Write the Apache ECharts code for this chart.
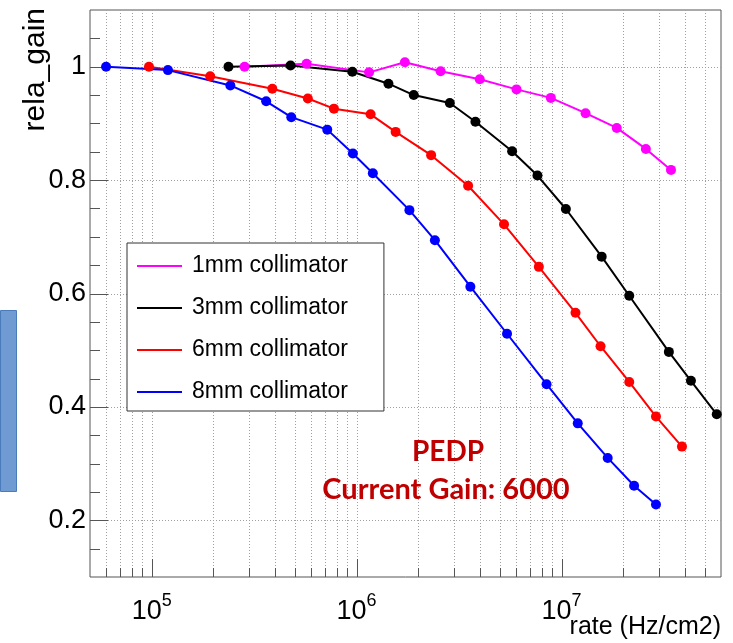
<!DOCTYPE html>
<html>
<head>
<meta charset="utf-8">
<script src="https://cdn.jsdelivr.net/npm/echarts@6/dist/echarts.min.js"></script>
<style>
  html, body { margin: 0; padding: 0; background: #fff; }
  #chart { width: 733px; height: 643px; }
</style>
</head>
<body>
<div id="chart"></div>
<script>
// Relative gain versus rate for four collimator sizes
const seriesNames = ['1mm collimator', '3mm collimator', '6mm collimator', '8mm collimator'];
const seriesColors = ['#ff00ff', '#000000', '#ff0000', '#0000ff'];

const rate1mm = [2.84e5, 5.70e5, 1.15e6, 1.72e6, 2.57e6, 3.99e6, 6.03e6, 8.87e6, 1.31e7, 1.86e7, 2.58e7, 3.42e7];
const gain1mm = [1.000, 1.005, 0.990, 1.008, 0.992, 0.978, 0.960, 0.945, 0.918, 0.892, 0.855, 0.818];

const rate3mm = [2.37e5, 4.76e5, 9.53e5, 1.43e6, 1.90e6, 2.85e6, 3.80e6, 5.74e6, 7.63e6, 1.05e7, 1.57e7, 2.14e7, 3.34e7, 4.28e7, 5.72e7];
const gain3mm = [1.000, 1.002, 0.991, 0.970, 0.950, 0.936, 0.903, 0.851, 0.808, 0.749, 0.665, 0.596, 0.497, 0.446, 0.387];

const rate6mm = [9.7e4, 1.93e5, 3.88e5, 5.78e5, 7.75e5, 1.17e6, 1.55e6, 2.31e6, 3.50e6, 5.24e6, 7.75e6, 1.17e7, 1.55e7, 2.14e7, 2.89e7, 3.87e7];
const gain6mm = [1.000, 0.983, 0.961, 0.944, 0.926, 0.916, 0.885, 0.844, 0.790, 0.722, 0.647, 0.566, 0.507, 0.444, 0.383, 0.330];

const rate8mm = [5.99e4, 1.20e5, 2.42e5, 3.62e5, 4.80e5, 7.19e5, 9.59e5, 1.20e6, 1.81e6, 2.41e6, 3.59e6, 5.42e6, 8.45e6, 1.20e7, 1.68e7, 2.26e7, 2.89e7];
const gain8mm = [1.000, 0.994, 0.967, 0.939, 0.911, 0.889, 0.847, 0.812, 0.747, 0.694, 0.612, 0.529, 0.440, 0.371, 0.310, 0.261, 0.228];

const xMin = 5e4, xMax = 6e7;
const yMin = 0.1, yMax = 1.1;

// Log-axis tick positions: every integer multiple of each decade
const xTickValues = [];
for (let e = 4; e <= 7; e++) {
  for (let m = 1; m <= 9; m++) {
    const v = m * Math.pow(10, e);
    if (v > xMin && v < xMax) xTickValues.push(v);
  }
}
// Linear y ticks every 0.05, grid every 0.2
const yTickValues = [];
for (let k = 3; k <= 21; k++) yTickValues.push(Math.round(k * 5) / 100);

const SANS = '"Liberation Sans", Arial, sans-serif';

function zip(xs, ys) { return xs.map((x, i) => [x, ys[i]]); }
const seriesData = [zip(rate1mm, gain1mm), zip(rate3mm, gain3mm), zip(rate6mm, gain6mm), zip(rate8mm, gain8mm)];

function isDecade(v) {
  const e = Math.log10(v);
  return Math.abs(e - Math.round(e)) < 1e-6;
}

const chart = echarts.init(document.getElementById('chart'), null, { renderer: 'canvas' });

const lineSeries = seriesNames.map((name, i) => ({
  name: name,
  type: 'line',
  data: seriesData[i],
  symbol: 'circle',
  symbolSize: 10,
  showSymbol: true,
  color: seriesColors[i],
  lineStyle: { width: 2, color: seriesColors[i] },
  itemStyle: { color: seriesColors[i] },
  z: 5,
  silent: true
}));

const option = {
  animation: false,
  backgroundColor: '#ffffff',
  grid: {
    left: 90, top: 10, width: 631, height: 567,
    show: true, borderColor: '#555', borderWidth: 1, backgroundColor: 'transparent'
  },
  xAxis: {
    type: 'log', logBase: 10, min: xMin, max: xMax,
    axisLine: { show: false }, axisTick: { show: false },
    splitLine: { show: false }, minorTick: { show: false },
    axisLabel: {
      showMinLabel: false, showMaxLabel: false,
      margin: 15,
      formatter: function (v) {
        if (!isDecade(v)) return '';
        return '{b|10}{s|' + Math.round(Math.log10(v)) + '}';
      },
      rich: {
        b: { fontFamily: SANS, fontSize: 27, color: '#000', lineHeight: 33, verticalAlign: 'bottom' },
        s: { fontFamily: SANS, fontSize: 18, color: '#000', lineHeight: 18, verticalAlign: 'top' }
      }
    }
  },
  yAxis: {
    type: 'value', min: yMin, max: yMax, interval: 0.1,
    axisLine: { show: false }, axisTick: { show: false }, splitLine: { show: false },
    axisLabel: {
      margin: 4,
      fontFamily: SANS, fontSize: 27, color: '#000',
      formatter: function (v) {
        const k = Math.round(v * 10);
        if (k % 2 !== 0 || k < 2 || k > 10) return '';
        return k === 10 ? '1' : (k / 10).toFixed(1);
      }
    }
  },
  legend: {
    orient: 'vertical', left: 127, top: 243,
    data: seriesNames,
    icon: 'rect', itemWidth: 45, itemHeight: 2, itemGap: 12,
    padding: [8, 36, 4, 10],
    backgroundColor: '#fff', borderColor: '#333', borderWidth: 1, borderRadius: 0,
    selectedMode: false,
    textStyle: { fontFamily: SANS, fontSize: 23, color: '#000', lineHeight: 30, padding: [0, 0, 0, 5] },
    z: 10
  },
  graphic: [
    {
      type: 'rect', shape: { x: 0.5, y: 310.5, width: 16, height: 181 },
      style: { fill: '#6f9bd2', stroke: '#4a7cbb', lineWidth: 1 }
    },
    {
      type: 'text', x: 36, y: 8, rotation: Math.PI / 2,
      style: { text: 'rela_gain', fontFamily: SANS, fontSize: 30, fill: '#000', align: 'right', verticalAlign: 'middle' }
    },
    {
      type: 'text', x: 721, y: 627,
      style: { text: 'rate (Hz/cm2)', fontFamily: SANS, fontSize: 25, fill: '#000', align: 'right', verticalAlign: 'middle' }
    },
    {
      type: 'text', x: 448, y: 452, z: 20,
      style: { text: 'PEDP', fontFamily: 'Lato, "Open Sans", sans-serif', fontWeight: 'bold', fontSize: 28, fill: '#c00000', align: 'center', verticalAlign: 'middle' }
    },
    {
      type: 'text', x: 446, y: 490, z: 20,
      style: { text: 'Current Gain: 6000', fontFamily: 'Lato, "Open Sans", sans-serif', fontWeight: 'bold', fontSize: 29, fill: '#c00000', align: 'center', verticalAlign: 'middle' }
    }
  ],
  series: [
    {
      // vertical grid lines and bottom ticks of the log axis
      type: 'custom', silent: true, z: 1,
      data: xTickValues.map(v => [v, 0.5]),
      renderItem: function (params, api) {
        const v = api.value(0);
        const cs = params.coordSys;
        const x = Math.round(api.coord([v, 0.5])[0]) + 0.5;
        const bottom = cs.y + cs.height;
        const len = isDecade(v) ? 18 : 9;
        return {
          type: 'group', children: [
            { type: 'line', shape: { x1: x, y1: cs.y, x2: x, y2: bottom }, style: { stroke: '#a0a0a0', lineWidth: 1, lineDash: [1, 2] } },
            { type: 'line', shape: { x1: x, y1: bottom, x2: x, y2: bottom - len }, style: { stroke: '#555', lineWidth: 1 } }
          ]
        };
      }
    },
    {
      // horizontal grid lines and left ticks of the linear axis
      type: 'custom', silent: true, z: 1,
      data: yTickValues.map(v => [1e6, v]),
      renderItem: function (params, api) {
        const v = api.value(1);
        const cs = params.coordSys;
        const y = Math.round(api.coord([1e6, v])[1]) + 0.5;
        const major = Math.round(v * 100) % 20 === 0;
        const children = [
          { type: 'line', shape: { x1: cs.x, y1: y, x2: cs.x + (major ? 18 : 10), y2: y }, style: { stroke: '#555', lineWidth: 1 } }
        ];
        if (major) {
          children.unshift({ type: 'line', shape: { x1: cs.x, y1: y, x2: cs.x + cs.width, y2: y }, style: { stroke: '#a0a0a0', lineWidth: 1, lineDash: [1, 2] } });
        }
        return { type: 'group', children: children };
      }
    }
  ].concat(lineSeries)
};

chart.setOption(option);
</script>
</body>
</html>
